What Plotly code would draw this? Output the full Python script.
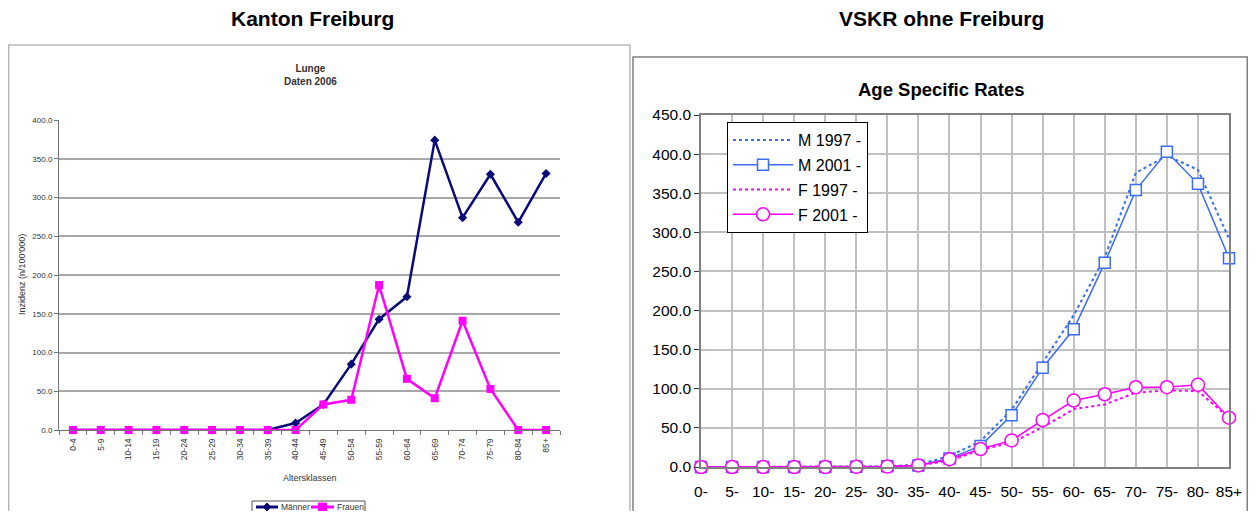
import plotly.graph_objects as go

# page is 1256x519; the HTML body has an 8px margin, so the figure is 16px smaller
W, H = 1240, 503
OFF = 8

# ---------------- data ----------------
left_categories = ["0-4", "5-9", "10-14", "15-19", "20-24", "25-29", "30-34", "35-39",
                   "40-44", "45-49", "50-54", "55-59", "60-64", "65-69", "70-74",
                   "75-79", "80-84", "85+"]
maenner = [0, 0, 0, 0, 0, 0, 0, 0, 9, 33, 85, 143, 172, 374, 274, 330, 268, 331]
frauen = [0, 0, 0, 0, 0, 0, 0, 0, 0, 33, 39, 187, 66, 41, 141, 53, 0, 0]

right_categories = ["0-", "5-", "10-", "15-", "20-", "25-", "30-", "35-", "40-", "45-",
                    "50-", "55-", "60-", "65-", "70-", "75-", "80-", "85+"]
m1997 = [0, 0, 0, 0, 0, 0.3, 1, 3, 14, 33, 73, 134, 194, 268, 376, 398, 380, 292]
m2001 = [0, 0, 0, 0, 0, 0.3, 0.8, 2, 11, 27, 66, 127, 176, 261, 354, 403, 362, 267]
f1997 = [0, 0, 0, 0, 0, 0.2, 0.5, 2, 8, 22, 31, 51, 74, 80, 95, 98, 97, 63]
f2001 = [0, 0, 0, 0, 0, 0.2, 0.5, 2, 10, 23, 34, 60, 85, 93, 102, 102, 105, 63]

left_yticks = [0, 50, 100, 150, 200, 250, 300, 350, 400]
right_yticks = [0, 50, 100, 150, 200, 250, 300, 350, 400, 450]

FONT = "Arial, Liberation Sans, sans-serif"
NAVY = "#0a0a78"
MAG = "#ff00ff"
BLUE = "#3a6cf4"


def px_x(x):
    return min(max((x - OFF) / W, 0.0006), 0.9994)


def px_y(y):
    return 1 - (y - OFF) / H


fig = go.Figure()

# ---------------- left chart ----------------
fig.add_trace(go.Scatter(
    x=left_categories, y=maenner, name="Männer", mode="lines+markers",
    line=dict(color=NAVY, width=2.5),
    marker=dict(symbol="diamond", size=7, color=NAVY),
    xaxis="x", yaxis="y", showlegend=False, cliponaxis=False))
fig.add_trace(go.Scatter(
    x=left_categories, y=frauen, name="Frauen", mode="lines+markers",
    line=dict(color=MAG, width=2.5),
    marker=dict(symbol="square", size=8, color=MAG),
    xaxis="x", yaxis="y", showlegend=False, cliponaxis=False))

# ---------------- right chart ----------------
fig.add_trace(go.Scatter(
    x=right_categories, y=m1997, name="M 1997 -", mode="lines",
    line=dict(color=BLUE, width=2, dash="dot"), legendgroup="a",
    xaxis="x2", yaxis="y2", cliponaxis=False))
fig.add_trace(go.Scatter(
    x=right_categories, y=m2001, name="M 2001 -", mode="lines+markers",
    line=dict(color=BLUE, width=1.5), legendgroup="b",
    marker=dict(symbol="square", size=11, color="white", line=dict(color=BLUE, width=1.5)),
    xaxis="x2", yaxis="y2", cliponaxis=False))
fig.add_trace(go.Scatter(
    x=right_categories, y=f1997, name="F 1997 -", mode="lines",
    line=dict(color=MAG, width=2, dash="dot"), legendgroup="c",
    xaxis="x2", yaxis="y2", cliponaxis=False))
fig.add_trace(go.Scatter(
    x=right_categories, y=f2001, name="F 2001 -", mode="lines+markers",
    line=dict(color=MAG, width=1.5), legendgroup="d",
    marker=dict(symbol="circle", size=13, color="white", line=dict(color=MAG, width=1.5)),
    xaxis="x2", yaxis="y2", cliponaxis=False))

fig.update_layout(
    width=W, height=H,
    margin=dict(l=0, r=0, t=0, b=0, autoexpand=False),
    paper_bgcolor="white", plot_bgcolor="white",
    font=dict(family=FONT, color="black"),
    xaxis=dict(
        domain=[px_x(59), px_x(560)], anchor="y", automargin=False,
        type="category", range=[-0.5, 17.5],
        tickangle=-90, tickfont=dict(size=8.5, color="#333"), ticklabelstandoff=4,
        ticks="outside", tickson="boundaries", ticklen=4, tickcolor="#777",
        showline=True, linecolor="#777", linewidth=1, showgrid=False, zeroline=False,
    ),
    yaxis=dict(
        domain=[px_y(430), px_y(120)], anchor="x", automargin=False,
        range=[0, 400], tickvals=left_yticks, tickformat=".1f",
        tickfont=dict(size=8, color="#333"),
        ticks="outside", ticklen=4, tickcolor="#777",
        showline=True, linecolor="#777", linewidth=1,
        showgrid=True, gridcolor="#a8a8a8", gridwidth=1.5, zeroline=False,
    ),
    xaxis2=dict(
        domain=[px_x(701), px_x(1229)], anchor="y2", automargin=False,
        type="category", range=[0, 17],
        tickfont=dict(size=15.5, color="black"), ticklabelstandoff=10,
        ticks="", showline=True, linecolor="#808080", linewidth=1.5, mirror=True,
        showgrid=True, gridcolor="#c0c0c0", gridwidth=1.5, zeroline=False,
    ),
    yaxis2=dict(
        domain=[px_y(467), px_y(115)], anchor="x2", automargin=False,
        range=[0, 450], tickvals=right_yticks, tickformat=".1f",
        tickfont=dict(size=15.5, color="black"),
        ticks="outside", ticklen=5, tickcolor="#333",
        showline=True, linecolor="#808080", linewidth=1.5, mirror=True,
        showgrid=True, gridcolor="#c0c0c0", gridwidth=1.5, zeroline=False,
    ),
    legend=dict(
        x=px_x(727), y=px_y(122), xanchor="left", yanchor="top",
        font=dict(size=16, color="black"), bordercolor="black", borderwidth=1,
        bgcolor="white", traceorder="grouped", tracegroupgap=1, itemwidth=60,
    ),
    showlegend=True,
)

# chart frames
fig.add_shape(type="rect", xref="paper", yref="paper",
              x0=px_x(6), x1=px_x(630), y0=-0.05, y1=px_y(45),
              line=dict(color="#b8b8b8", width=1.5), layer="below")
fig.add_shape(type="rect", xref="paper", yref="paper",
              x0=px_x(633), x1=px_x(1250), y0=-0.05, y1=px_y(57),
              line=dict(color="#808080", width=1.5), layer="below")

# left-chart legend (Excel style, compact box under the axis title)
LEG_Y = 507
fig.add_shape(type="rect", xref="paper", yref="paper",
              x0=px_x(252), x1=px_x(365), y0=px_y(516), y1=px_y(501),
              line=dict(color="#555", width=1), fillcolor="white")
fig.add_shape(type="line", xref="paper", yref="paper",
              x0=px_x(256), x1=px_x(278), y0=px_y(LEG_Y), y1=px_y(LEG_Y),
              line=dict(color=NAVY, width=3))
fig.add_shape(type="path", xref="paper", yref="paper",
              path=(f"M {px_x(263)},{px_y(LEG_Y)} L {px_x(267)},{px_y(LEG_Y - 4)} "
                    f"L {px_x(271)},{px_y(LEG_Y)} L {px_x(267)},{px_y(LEG_Y + 4)} Z"),
              line=dict(color=NAVY, width=1), fillcolor=NAVY)
fig.add_shape(type="line", xref="paper", yref="paper",
              x0=px_x(311), x1=px_x(334), y0=px_y(LEG_Y), y1=px_y(LEG_Y),
              line=dict(color=MAG, width=3))
fig.add_shape(type="rect", xref="paper", yref="paper",
              x0=px_x(318.5), x1=px_x(326.5), y0=px_y(LEG_Y + 4), y1=px_y(LEG_Y - 4),
              line=dict(color=MAG, width=1), fillcolor=MAG)
fig.add_annotation(x=px_x(279), y=px_y(LEG_Y), xref="paper", yref="paper",
                   text=fig.data[0].name, showarrow=False,
                   font=dict(size=8.5, color="#333"), xanchor="left", yanchor="middle")
fig.add_annotation(x=px_x(335), y=px_y(LEG_Y), xref="paper", yref="paper",
                   text=fig.data[1].name, showarrow=False,
                   font=dict(size=8.5, color="#333"), xanchor="left", yanchor="middle")

# titles
fig.add_annotation(x=px_x(312), y=px_y(18), xref="paper", yref="paper",
                   text="<b>Kanton Freiburg</b>", showarrow=False,
                   font=dict(size=21, color="black"), xanchor="center", yanchor="middle")
fig.add_annotation(x=px_x(942), y=px_y(18), xref="paper", yref="paper",
                   text="<b>VSKR ohne Freiburg</b>", showarrow=False,
                   font=dict(size=21, color="black"), xanchor="center", yanchor="middle")
fig.add_annotation(x=px_x(310), y=px_y(75), xref="paper", yref="paper",
                   text="<b>Lunge<br>Daten 2006</b>", showarrow=False,
                   font=dict(size=10, color="#333"), xanchor="center", yanchor="middle")
fig.add_annotation(x=px_x(942), y=px_y(90), xref="paper", yref="paper",
                   text="<b>Age Specific Rates</b>", showarrow=False,
                   font=dict(size=18.5, color="black"), xanchor="center", yanchor="middle")
# left axis titles
fig.add_annotation(x=px_x(22), y=px_y(275), xref="paper", yref="paper",
                   text="Inzidenz (n/100'000)", showarrow=False, textangle=-90,
                   font=dict(size=9, color="#333"), xanchor="center", yanchor="middle")
fig.add_annotation(x=px_x(310), y=px_y(478), xref="paper", yref="paper",
                   text="Altersklassen", showarrow=False,
                   font=dict(size=9, color="#333"), xanchor="center", yanchor="middle")

fig.write_html("out.html")
